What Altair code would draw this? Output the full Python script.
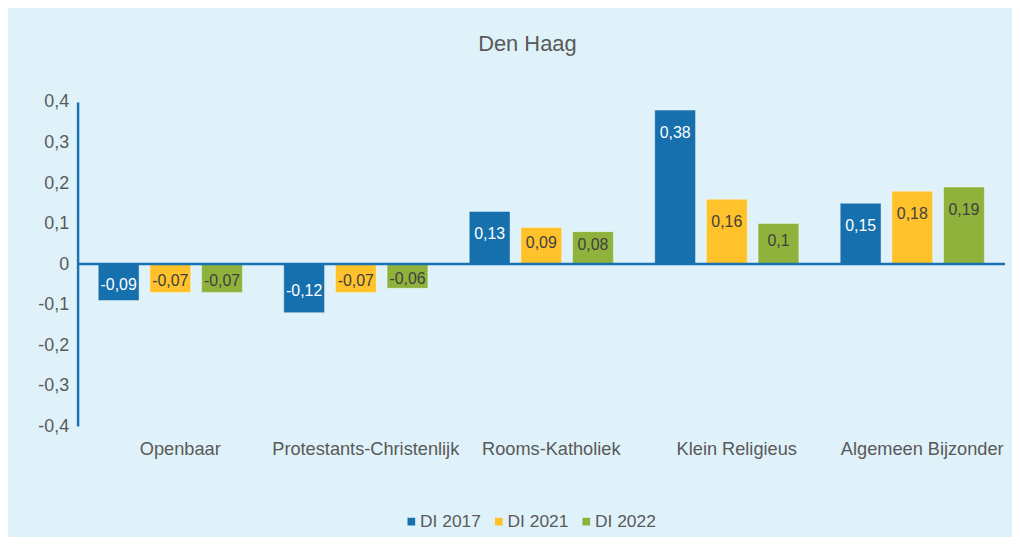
import altair as alt
import pandas as pd

categories = ["Openbaar", "Protestants-Christenlijk", "Rooms-Katholiek", "Klein Religieus", "Algemeen Bijzonder"]
series = ["DI 2017", "DI 2021", "DI 2022"]
di2017 = [-0.09, -0.12, 0.13, 0.38, 0.15]
di2021 = [-0.07, -0.07, 0.09, 0.16, 0.18]
di2022 = [-0.07, -0.06, 0.08, 0.10, 0.19]
y_ticks = [-0.4, -0.3, -0.2, -0.1, 0, 0.1, 0.2, 0.3, 0.4]
colors = ["#1570AD", "#FFC22B", "#8FB23D"]

rows = []
for s, vals in zip(series, [di2017, di2021, di2022]):
    for c, v in zip(categories, vals):
        rows.append({"cat": c, "series": s, "value": v})
df = pd.DataFrame(rows)

FONT = "Liberation Sans"
GREY = "#595959"
BLUE_LINE = "#1A72B0"

x_enc = alt.X("cat:N", sort=categories, title=None,
              scale=alt.Scale(paddingInner=0, paddingOuter=0),
              axis=alt.Axis(orient="bottom", domain=False, ticks=False, labelAngle=0,
                            labelFontSize=18.3, labelColor=GREY, labelPadding=15,
                            labelOffset=10, labelBaseline="top", labelLimit=0))
xoff = alt.XOffset("series:N", sort=series,
                   scale=alt.Scale(paddingInner=0.21, paddingOuter=0.4))
y_scale = alt.Scale(domain=[-0.4, 0.4], nice=False, zero=False)

base = alt.Chart(df)

bars = base.mark_bar(stroke="#FFFFFF", strokeWidth=0.8, strokeOpacity=0.5).encode(
    x=x_enc,
    xOffset=xoff,
    y=alt.Y("value:Q", scale=y_scale, title=None,
            axis=alt.Axis(values=y_ticks, grid=False, ticks=False, domain=True,
                          domainColor=BLUE_LINE, domainWidth=2.5,
                          labelFontSize=18, labelColor=GREY, labelPadding=9,
                          labelExpr="datum.value == 0 ? '0' : (datum.value < 0 ? '-' : '') + replace(format(abs(datum.value), '.1f'), '.', ',')")),
    color=alt.Color("series:N", sort=series,
                    scale=alt.Scale(domain=series, range=colors),
                    legend=alt.Legend(title=None, orient="none", direction="horizontal",
                                      legendX=327, legendY=413, padding=0,
                                      symbolType="square", symbolSize=60, symbolStrokeWidth=0,
                                      labelFontSize=17.5, labelColor=GREY, labelOffset=0,
                                      columnPadding=9)),
)

labels = base.transform_calculate(
    lab="datum.value - (datum.value < 0 ? -1 : 1) * min(0.056, abs(datum.value) / 2 - 0.006)",
    txt="replace(toString(datum.value), '.', ',')",
).mark_text(fontSize=16, baseline="middle", align="center").encode(
    x=alt.X("cat:N", sort=categories),
    xOffset=xoff,
    y=alt.Y("lab:Q", scale=y_scale),
    text="txt:N",
    color=alt.condition(alt.datum.series == "DI 2017", alt.value("#FFFFFF"), alt.value("#404040")),
)

zero = alt.Chart(pd.DataFrame({"z": [0]})).mark_rule(color=BLUE_LINE, strokeWidth=2.5).encode(
    y=alt.Y("z:Q", scale=y_scale)
)

chart = alt.layer(bars, labels, zero).properties(
    width=933,
    height=326,
    padding={"left": 70, "top": 93, "right": 7, "bottom": 110},
    autosize=alt.AutoSizeParams(type="none"),
    background="#DFF2FA",
    title=alt.TitleParams("Den Haag", fontSize=22, color=GREY, fontWeight="normal",
                          anchor="middle", offset=37, dx=-14, font=FONT),
).configure(font=FONT).configure_view(stroke=None)

chart.save("out.html", embed_options={"renderer": "svg", "actions": False})
